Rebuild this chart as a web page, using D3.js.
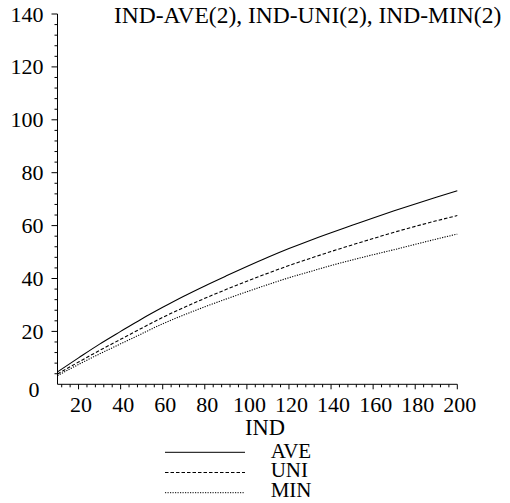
<!DOCTYPE html>
<html><head><meta charset="utf-8">
<script src="https://cdn.jsdelivr.net/npm/d3@7"></script></head>
<body style="margin:0">
<svg id="plot" width="510" height="503"></svg>
<script>
// IND values at which each curve is sampled
const ind = [10, 20, 30, 40, 50, 60, 70, 80, 90, 100, 110, 120, 130, 140, 150, 160, 170, 180, 190, 200];
// series values
const ave = [4.7, 10.0, 15.2, 20.0, 24.7, 29.1, 33.3, 37.2, 40.9, 44.5, 48.0, 51.3, 54.4, 57.3, 60.1, 62.9, 65.6, 68.2, 70.7, 73.2];
const uni = [3.9, 8.4, 12.8, 17.0, 21.2, 25.3, 29.0, 32.5, 35.8, 39.0, 42.0, 44.9, 47.6, 50.2, 52.7, 55.1, 57.5, 59.7, 61.8, 63.8];
const mn  = [3.3, 7.5, 11.5, 15.3, 19.1, 22.9, 26.2, 29.3, 32.2, 35.0, 37.7, 40.3, 42.6, 44.9, 47.0, 49.0, 50.9, 52.9, 54.9, 56.8];
// tick labels
const xTicks = [20, 40, 60, 80, 100, 120, 140, 160, 180, 200];
const yTicks = [0, 20, 40, 60, 80, 100, 120, 140];
const seriesNames = ["AVE", "UNI", "MIN"];
const titleText = "IND-AVE(2), IND-UNI(2), IND-MIN(2)";
const xLabel = "IND";

const svg = d3.select("#plot");
const x = d3.scaleLinear().domain([10, 200]).range([57.5, 457.3]);
const y = d3.scaleLinear().domain([0, 140]).range([384.3, 14]);

const styles = [
  { dash: null },
  { dash: "3.5,2" },
  { dash: "1.2,1.3" }
];
const series = [ave, uni, mn];

// serif text helper
function label(sel, size) {
  return sel.attr("font-family", "Liberation Serif")
    .style("font-family", "'Liberation Serif', Tinos, 'Times New Roman', serif", "important")
    .style("font-size", size + "px", "important");
}

// axes lines
svg.append("line").attr("x1", x(10)).attr("x2", x(200)).attr("y1", y(0)).attr("y2", y(0))
  .attr("stroke", "#000").attr("stroke-width", 1);
svg.append("line").attr("x1", x(10)).attr("x2", x(10)).attr("y1", y(0)).attr("y2", y(140))
  .attr("stroke", "#000").attr("stroke-width", 1);

// x ticks: minor every 4, major every 20
const xMinor = d3.range(12, 201, 4);
svg.append("g").selectAll("line").data(xMinor).join("line")
  .attr("x1", d => x(d)).attr("x2", d => x(d))
  .attr("y1", y(0)).attr("y2", d => y(0) + (d % 20 === 0 ? 5 : 3))
  .attr("stroke", "#000").attr("stroke-width", 1);
// y ticks
const yMinor = d3.range(4, 141, 4);
svg.append("g").selectAll("line").data(yMinor).join("line")
  .attr("y1", d => y(d)).attr("y2", d => y(d))
  .attr("x1", x(10)).attr("x2", d => x(10) - (d % 20 === 0 ? 6 : 3))
  .attr("stroke", "#000").attr("stroke-width", 1);

// tick labels
label(svg.append("g").selectAll("text").data(xTicks).join("text"), 22)
  .attr("x", d => x(d) + 2.5).attr("y", 411.5)
  .attr("text-anchor", "middle")
  .text(d => d);
label(svg.append("g").selectAll("text").data(yTicks).join("text"), 22)
  .attr("x", d => d === 0 ? 39.5 : 43.5)
  .attr("y", d => y(d) + (d === 0 ? 12.5 : 7.5))
  .attr("text-anchor", "end")
  .text(d => d);

// curves
const line = d3.line().curve(d3.curveMonotoneX)
  .x((d, i) => x(ind[i])).y(d => y(d));
svg.append("g").selectAll("path").data(series).join("path")
  .attr("d", d => line(d))
  .attr("fill", "none").attr("stroke", "#000").attr("stroke-width", 1.1)
  .attr("stroke-dasharray", (d, i) => styles[i].dash);

// title
label(svg.append("text"), 23.5).attr("x", 114).attr("y", 22.7).text(titleText);

// axis label
label(svg.append("text"), 22.5).attr("x", 265).attr("y", 435)
  .attr("text-anchor", "middle").text(xLabel);

// legend
const lg = svg.append("g");
seriesNames.forEach((name, i) => {
  const ly = 452.3 + i * 20.2;
  lg.append("line").attr("x1", 165).attr("x2", 245).attr("y1", ly).attr("y2", ly)
    .attr("stroke", "#000").attr("stroke-width", 1)
    .attr("stroke-dasharray", styles[i].dash);
  label(lg.append("text"), 21).attr("x", 270.7).attr("y", 457.7 + i * 19.5).text(name);
});
</script>
</body>
</html>
